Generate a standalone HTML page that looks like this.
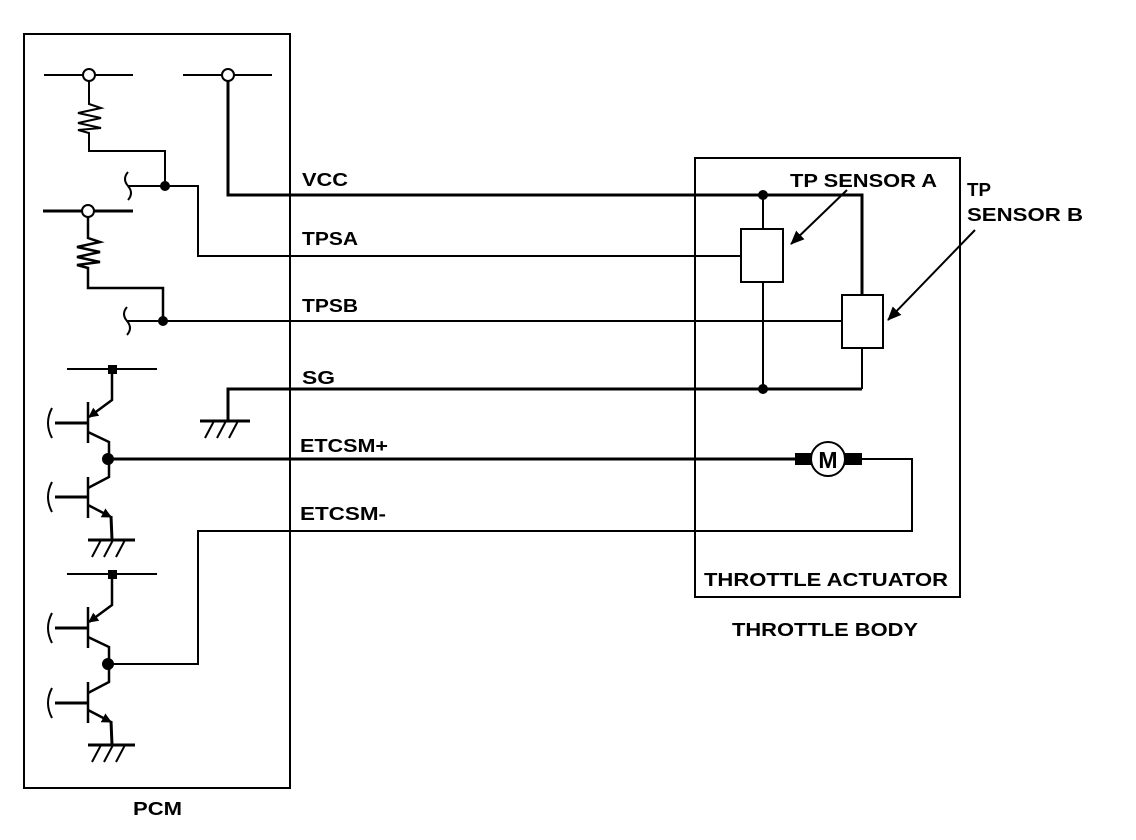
<!DOCTYPE html>
<html><head><meta charset="utf-8"><style>html,body{margin:0;padding:0;background:#fff}svg{display:block}text{font-family:"Liberation Sans",Arial,sans-serif;font-weight:bold;fill:#000}</style></head>
<body>
<svg width="1136" height="840" viewBox="0 0 1136 840" xmlns="http://www.w3.org/2000/svg">
<defs>
<marker id="ar" markerWidth="10" markerHeight="10" refX="9" refY="5" orient="auto" markerUnits="userSpaceOnUse"><path d="M0,0 L10,5 L0,10 z" fill="#000"/></marker>
<marker id="ab" markerWidth="14" markerHeight="12" refX="13" refY="6" orient="auto" markerUnits="userSpaceOnUse"><path d="M0,0 L14,6 L0,12 z" fill="#000"/></marker>
</defs>
<g fill="none" stroke="#000" stroke-width="2">
<rect x="24" y="34" width="266" height="754"/>
<rect x="695" y="158" width="265" height="439"/>
<line x1="44" y1="75" x2="133" y2="75"/>
<circle cx="89" cy="75" r="6" fill="#fff"/>
<polyline points="89,81 89,104 101,108 78,113 101,118 78,123 101,128 78,130 89,133 89,151 165,151 165,186"/>
<path d="M128,172 q-6,7 0,14 q6,7 0,14"/>
<polyline points="128,186 198,186 198,256 741,256"/>
<circle cx="165" cy="186" r="4" fill="#000"/>
<line x1="183" y1="75" x2="272" y2="75"/>
<circle cx="228" cy="75" r="6" fill="#fff"/>
<polyline points="228,81 228,195 862,195 862,295" stroke-width="3"/>
<line x1="43" y1="211" x2="133" y2="211" stroke-width="3"/>
<circle cx="88" cy="211" r="6" fill="#fff"/>
<polyline points="88,217 88,238 100,242 77,247 100,252 77,257 100,262 77,265 88,268 88,288 163,288 163,321" stroke-width="2.5"/>
<path d="M127,307 q-6,7 0,14 q6,7 0,14"/>
<line x1="127" y1="321" x2="842" y2="321"/>
<circle cx="163" cy="321" r="4" fill="#000"/>
<line x1="763" y1="195" x2="763" y2="229"/>
<rect x="741" y="229" width="42" height="53"/>
<line x1="763" y1="282" x2="763" y2="389"/>
<rect x="842" y="295" width="41" height="53"/>
<line x1="862" y1="348" x2="862" y2="389"/>
<circle cx="763" cy="195" r="4" fill="#000"/>
<circle cx="763" cy="389" r="4" fill="#000"/>
<polyline points="862,389 228,389 228,420" stroke-width="3"/>
<line x1="200" y1="421" x2="250" y2="421" stroke-width="3"/>
<path d="M214,421 l-9,17 M226,421 l-9,17 M238,421 l-9,17"/>
<line x1="847" y1="190" x2="791" y2="244" marker-end="url(#ab)"/>
<line x1="975" y1="230" x2="888" y2="320" marker-end="url(#ab)"/>
<line x1="67" y1="369" x2="157" y2="369"/>
<rect x="108" y="365" width="9" height="9" fill="#000" stroke="none"/>
<polyline points="112,369 112,400 89,417" stroke-width="2.5" marker-end="url(#ar)"/>
<line x1="88" y1="402" x2="88" y2="443" stroke-width="2.5"/>
<line x1="55" y1="423" x2="88" y2="423" stroke-width="3"/>
<path d="M52,408 q-8,15 0,30"/>
<polyline points="88,432 109,442 109,459 109,477 88,488" stroke-width="2.5"/>
<line x1="108" y1="459" x2="795" y2="459" stroke-width="3"/>
<circle cx="108" cy="459" r="5" fill="#000"/>
<line x1="88" y1="477" x2="88" y2="518" stroke-width="2.5"/>
<line x1="55" y1="497" x2="88" y2="497" stroke-width="3"/>
<path d="M52,482 q-8,15 0,30"/>
<polyline points="88,505 111,517" stroke-width="2.5" marker-end="url(#ar)"/>
<polyline points="111,516 112,540" stroke-width="3"/>
<line x1="88" y1="540" x2="135" y2="540" stroke-width="3"/>
<path d="M101,540 l-9,17 M113,540 l-9,17 M125,540 l-9,17"/>
<line x1="67" y1="574" x2="157" y2="574"/>
<rect x="108" y="570" width="9" height="9" fill="#000" stroke="none"/>
<polyline points="112,574 112,605 89,622" stroke-width="2.5" marker-end="url(#ar)"/>
<line x1="88" y1="607" x2="88" y2="648" stroke-width="2.5"/>
<line x1="55" y1="628" x2="88" y2="628" stroke-width="3"/>
<path d="M52,613 q-8,15 0,30"/>
<polyline points="88,637 109,647 109,664 109,682 88,693" stroke-width="2.5"/>
<polyline points="108,664 198,664 198,531 912,531 912,459 862,459" stroke-width="2"/>
<circle cx="108" cy="664" r="5" fill="#000"/>
<line x1="88" y1="682" x2="88" y2="723" stroke-width="2.5"/>
<line x1="55" y1="703" x2="88" y2="703" stroke-width="3"/>
<path d="M52,688 q-8,15 0,30"/>
<polyline points="88,710 111,722" stroke-width="2.5" marker-end="url(#ar)"/>
<polyline points="111,721 112,745" stroke-width="3"/>
<line x1="88" y1="745" x2="135" y2="745" stroke-width="3"/>
<path d="M101,745 l-9,17 M113,745 l-9,17 M125,745 l-9,17"/>
<rect x="795" y="453" width="17" height="12" fill="#000" stroke="none"/>
<rect x="845" y="453" width="17" height="12" fill="#000" stroke="none"/>
<circle cx="828" cy="459" r="17" fill="#fff"/>
</g>
<text x="828" y="468" font-size="23" text-anchor="middle">M</text>
<g font-size="18" lengthAdjust="spacingAndGlyphs">
<text x="302" y="186" textLength="46" lengthAdjust="spacingAndGlyphs">VCC</text>
<text x="302" y="245" textLength="56" lengthAdjust="spacingAndGlyphs">TPSA</text>
<text x="302" y="312" textLength="56" lengthAdjust="spacingAndGlyphs">TPSB</text>
<text x="302" y="384" textLength="33" lengthAdjust="spacingAndGlyphs">SG</text>
<text x="300" y="452" textLength="88" lengthAdjust="spacingAndGlyphs">ETCSM+</text>
<text x="300" y="520" textLength="86" lengthAdjust="spacingAndGlyphs">ETCSM-</text>
<text x="790" y="187" textLength="147" lengthAdjust="spacingAndGlyphs">TP SENSOR A</text>
<text x="967" y="196" textLength="24" lengthAdjust="spacingAndGlyphs">TP</text>
<text x="967" y="221" textLength="116" lengthAdjust="spacingAndGlyphs">SENSOR B</text>
<text x="704" y="586" textLength="244" lengthAdjust="spacingAndGlyphs">THROTTLE ACTUATOR</text>
<text x="732" y="636" textLength="186" lengthAdjust="spacingAndGlyphs">THROTTLE BODY</text>
<text x="133" y="815" textLength="49" lengthAdjust="spacingAndGlyphs">PCM</text>
</g>
</svg>
</body></html>
